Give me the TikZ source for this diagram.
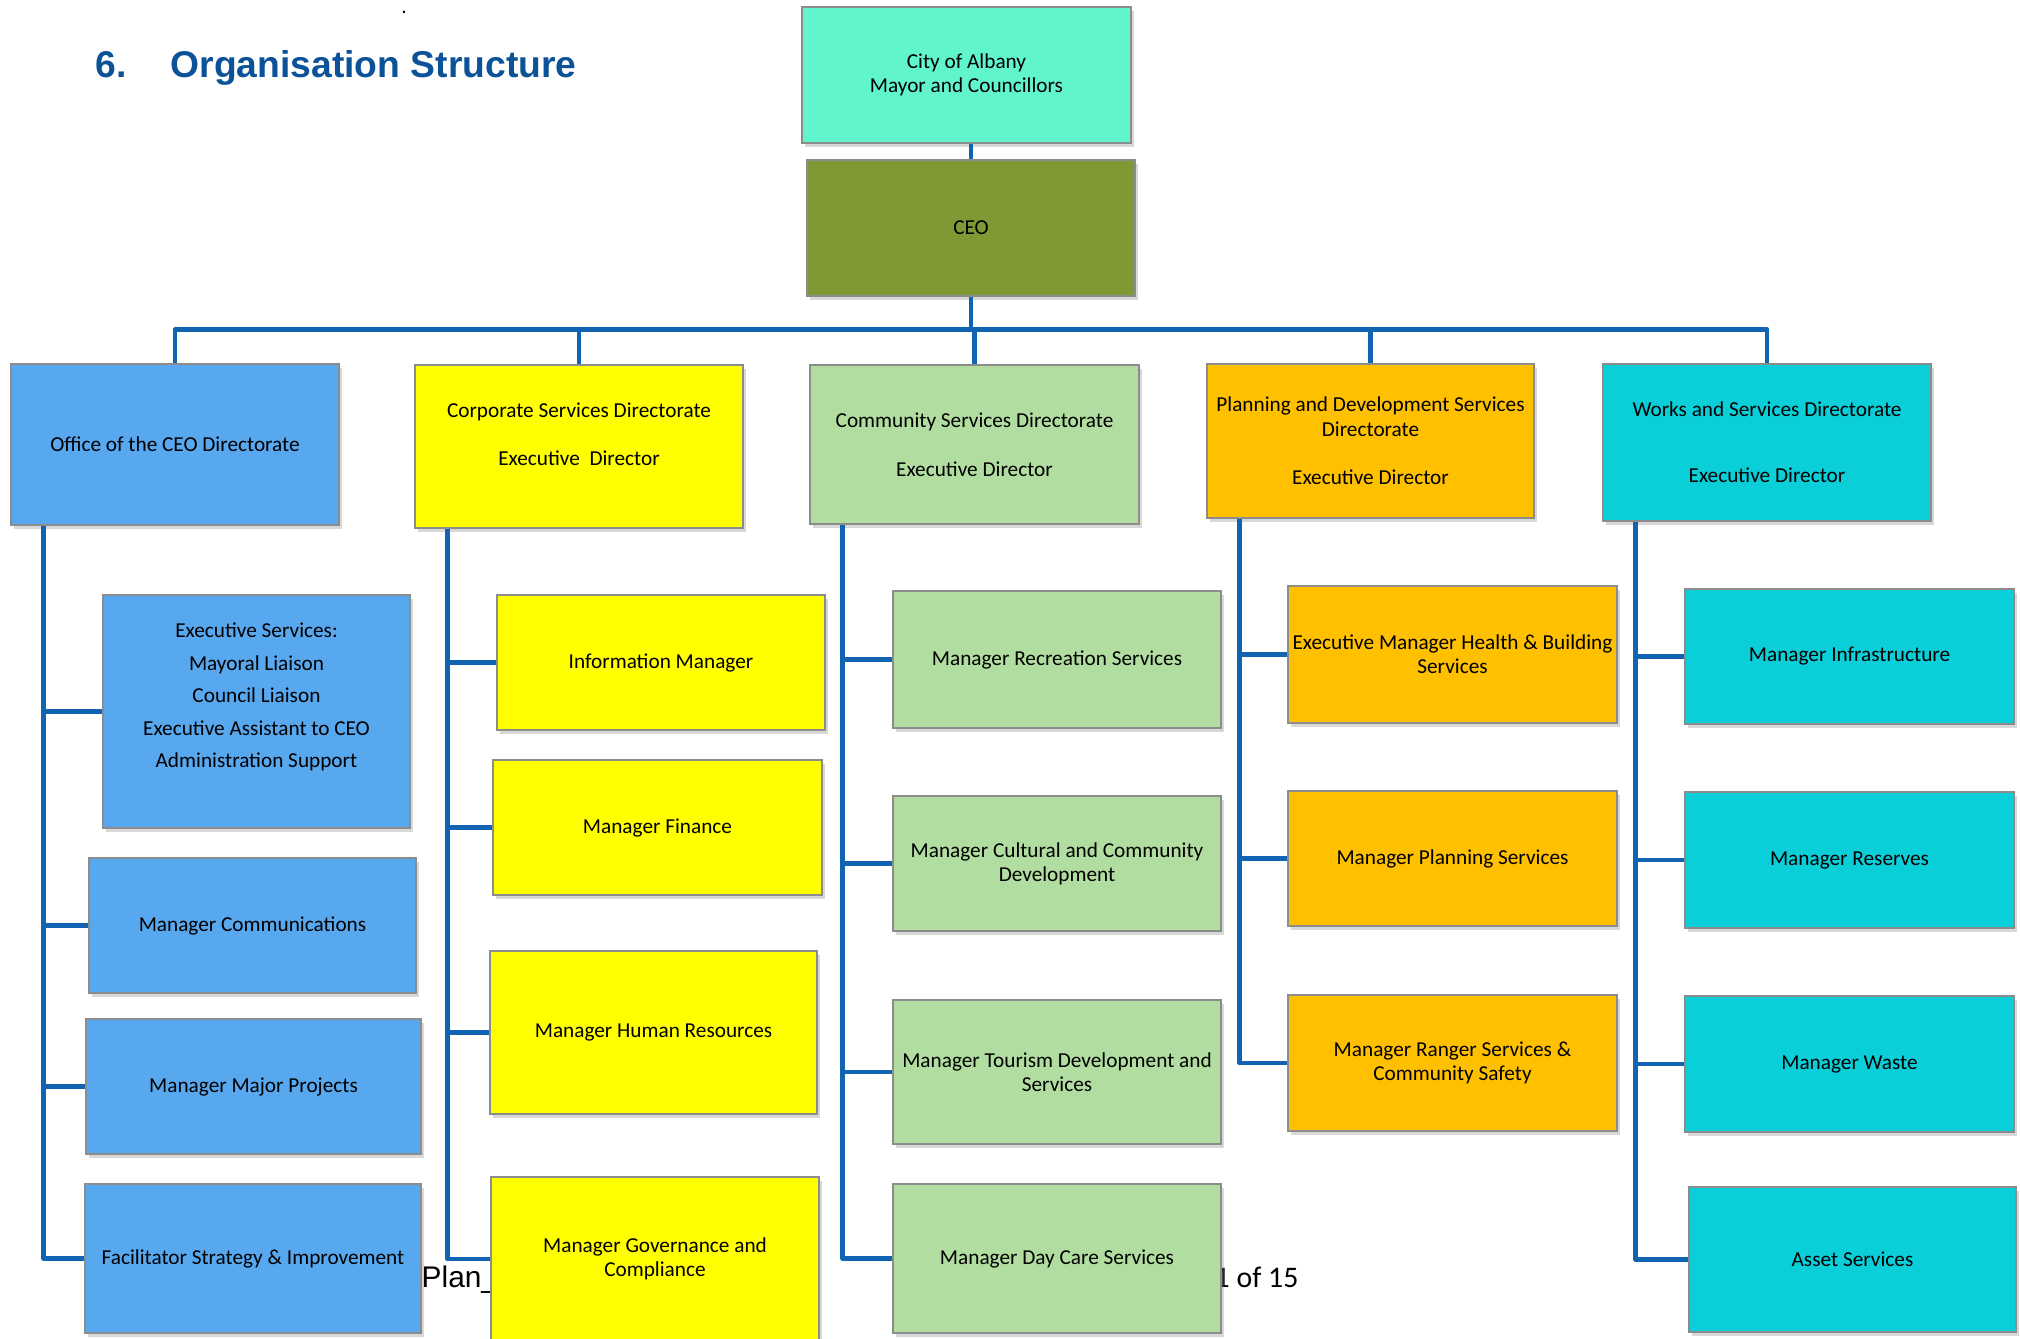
\documentclass[tikz,border=0pt]{standalone}
\usepackage{fontspec}
\setmainfont{Carlito}
\newfontfamily\arialfont{Liberation Sans}
\usetikzlibrary{shadows}

\definecolor{cityc}{RGB}{96,245,204}
\definecolor{ceoc}{RGB}{127,153,52}
\definecolor{officec}{RGB}{88,168,240}
\definecolor{corpc}{RGB}{255,255,0}
\definecolor{commc}{RGB}{177,222,160}
\definecolor{planc}{RGB}{255,192,0}
\definecolor{worksc}{RGB}{10,206,216}
\definecolor{linkc}{RGB}{16,100,178}
\definecolor{titlec}{RGB}{12,82,152}

\tikzset{
  unit/.style={draw=gray!90, line width=0.35pt, align=center, inner sep=0pt,
    font=\fontsize{6.05}{6.9}\selectfont,
    drop shadow={shadow xshift=0.03cm, shadow yshift=-0.04cm, opacity=0.3}},
  dims/.style 2 args={minimum width=#1cm, minimum height=#2cm},
  link/.style={draw=linkc, line width=1.4pt, line join=round},
  heading/.style={anchor=base west, inner sep=0pt, text=titlec,
    font=\arialfont\bfseries\fontsize{10.6}{12}\selectfont},
  footer/.style={anchor=base west, inner sep=0pt, font=\fontsize{8.5}{10}\selectfont},
}

\begin{document}
\begin{tikzpicture}

    \useasboundingbox[fill=white] (0,0) rectangle (20.2,-13.38);

    %page text behind the chart
    \node[footer, font=\arialfont\fontsize{8.5}{10}\selectfont] (plan) at (4.21,-12.87) {Plan\_};
    \node[footer] (page) at (12.14,-12.87) {1 of 15};
    \node[inner sep=0pt, font=\arialfont\fontsize{6}{7}\selectfont] (dot) at (4.04,-0.12) {.};

    %heading
    \node[heading] (secnum) at (0.95,-0.77) {6.};
    \node[heading] (title) at (1.70,-0.77) {Organisation Structure};

    %council and CEO
    \node[unit, fill=cityc, dims={3.29}{1.36}] (city) at (9.665,-0.75) {City of Albany\\Mayor and Councillors};
    \node[unit, fill=ceoc, dims={3.28}{1.36}] (ceo) at (9.71,-2.28) {CEO};

    %directorates
    \node[unit, fill=officec, dims={3.28}{1.61}] (office) at (1.75,-4.445) {Office of the CEO Directorate};
    \node[unit, fill=corpc, dims={3.28}{1.63}] (corp) at (5.79,-4.465) {Corporate Services Directorate\\[\baselineskip]Executive~~Director\\\mbox{}};
    \node[unit, fill=commc, dims={3.29}{1.59}] (comm) at (9.745,-4.445) {Community Services Directorate\\[\baselineskip]Executive Director};
    \node[unit, fill=planc, dims={3.27}{1.54}] (pland) at (13.705,-4.41) {Planning and Development Services\\Directorate\\[\baselineskip]Executive Director};
    \node[unit, fill=worksc, dims={3.28}{1.57}] (works) at (17.67,-4.425) {Works and Services Directorate\\[0.42cm]Executive Director};

    %office of the CEO
    \node[unit, fill=officec, dims={3.07}{2.33}, font=\fontsize{6.05}{9.25}\selectfont] (exsvc) at (2.565,-7.115) {Executive Services:\\Mayoral Liaison\\Council Liaison\\Executive Assistant to CEO\\Administration Support\\\mbox{}};
    \node[unit, fill=officec, dims={3.27}{1.35}] (comms) at (2.525,-9.255) {Manager Communications};
    \node[unit, fill=officec, dims={3.35}{1.35}] (major) at (2.535,-10.865) {Manager Major Projects};
    \node[unit, fill=officec, dims={3.36}{1.49}] (facil) at (2.53,-12.585) {Facilitator Strategy \& Improvement};

    %corporate services
    \node[unit, fill=corpc, dims={3.28}{1.35}] (info) at (6.61,-6.625) {Information Manager};
    \node[unit, fill=corpc, dims={3.29}{1.35}] (finance) at (6.575,-8.275) {Manager Finance};
    \node[unit, fill=corpc, dims={3.27}{1.63}] (hr) at (6.535,-10.325) {Manager Human Resources};
    \node[unit, fill=corpc, dims={3.28}{1.64}] (gov) at (6.55,-12.59) {Manager Governance and\\Compliance};

    %community services
    \node[unit, fill=commc, dims={3.28}{1.37}] (rec) at (10.57,-6.595) {Manager Recreation Services};
    \node[unit, fill=commc, dims={3.28}{1.35}] (cult) at (10.57,-8.635) {Manager Cultural and Community\\Development};
    \node[unit, fill=commc, dims={3.28}{1.44}] (tour) at (10.57,-10.72) {Manager Tourism Development and\\Services};
    \node[unit, fill=commc, dims={3.28}{1.49}] (day) at (10.57,-12.585) {Manager Day Care Services};

    %planning and development
    \node[unit, fill=planc, dims={3.29}{1.37}] (health) at (14.525,-6.545) {Executive Manager Health \& Building\\Services};
    \node[unit, fill=planc, dims={3.29}{1.35}] (planm) at (14.525,-8.585) {Manager Planning Services};
    \node[unit, fill=planc, dims={3.29}{1.36}] (ranger) at (14.525,-10.63) {Manager Ranger Services \&\\Community Safety};

    %works and services
    \node[unit, fill=worksc, dims={3.29}{1.35}] (infra) at (18.495,-6.565) {Manager Infrastructure};
    \node[unit, fill=worksc, dims={3.29}{1.36}] (reserves) at (18.495,-8.60) {Manager Reserves};
    \node[unit, fill=worksc, dims={3.29}{1.36}] (waste) at (18.495,-10.64) {Manager Waste};
    \node[unit, fill=worksc, dims={3.27}{1.45}] (asset) at (18.525,-12.595) {Asset Services};

    %top links and bus
    \draw[link] (ceo.north) -- (ceo.north |- city.south);
    \draw[link] (ceo.south) -- ++(0,-0.33) coordinate (bus);
    \draw[link] (office.north) |- (bus) -| (works.north);
    \foreach \d in {corp,comm,pland}
        \draw[link] (\d.north) -- (\d.north |- bus);

    %column lines
    \foreach \d/\last in {office/facil, corp/gov, comm/day, pland/ranger, works/asset} {
        \coordinate (\d L) at ([xshift=0.335cm]\d.south west);
        \draw[link] (\d L) |- (\last.west);
    }
    \foreach \n/\d in {exsvc/office, comms/office, major/office, info/corp, finance/corp, hr/corp,
                       rec/comm, cult/comm, tour/comm, health/pland, planm/pland,
                       infra/works, reserves/works, waste/works}
        \draw[link] (\n.west) -- (\n.west -| \d L);

\end{tikzpicture}
\end{document}
